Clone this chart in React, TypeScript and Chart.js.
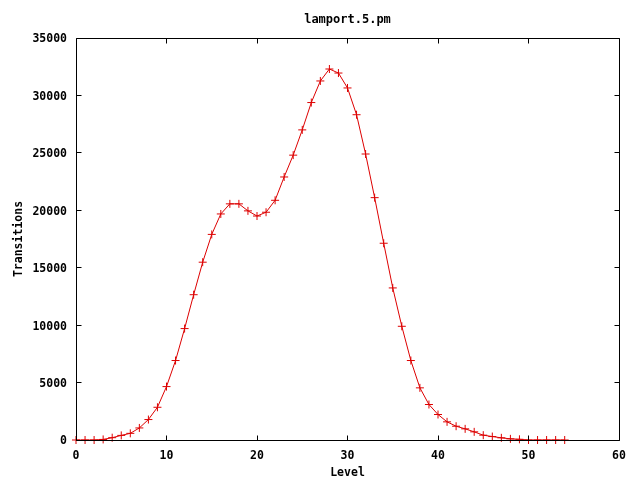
import React, { useEffect, useRef } from "react";
import { Chart, registerables } from "chart.js";

Chart.register(...registerables);

// ---- data ----
const levels = [
  0, 1, 2, 3, 4, 5, 6, 7, 8, 9,
  10, 11, 12, 13, 14, 15, 16, 17, 18, 19,
  20, 21, 22, 23, 24, 25, 26, 27, 28, 29,
  30, 31, 32, 33, 34, 35, 36, 37, 38, 39,
  40, 41, 42, 43, 44, 45, 46, 47, 48, 49,
  50, 51, 52, 53, 54,
];
const transitions = [
  0, 0, 0, 50, 200, 400, 580, 1050, 1780, 2850,
  4650, 6920, 9700, 12650, 15480, 17900, 19680, 20560, 20560, 19950,
  19500, 19830, 20870, 22900, 24800, 27000, 29380, 31260, 32300, 31950,
  30650, 28320, 24900, 21100, 17130, 13240, 9900, 6920, 4540, 3090,
  2220, 1580, 1200, 970, 710, 420, 300, 190, 100, 60,
  0, 0, 0, 0, 0,
];
const xTickValues = [0, 10, 20, 30, 40, 50, 60];
const yTickValues = [0, 5000, 10000, 15000, 20000, 25000, 30000, 35000];
const chartTitle = "lamport.5.pm";
const xAxisLabel = "Level";
const yAxisLabel = "Transitions";

const FONT_FAMILY = "'DejaVu Sans Mono', 'Liberation Mono', monospace";
const LINE_COLOR = "#dd0000";

const gnuplotBox = {
  id: "gnuplotBox",
  afterDraw(chart: any) {
    const { ctx, chartArea: a, scales } = chart;
    const L = Math.floor(a.left) + 0.5;
    const R = Math.floor(a.right) + 0.5;
    const T = Math.floor(a.top) + 0.5;
    const B = Math.floor(a.bottom) + 0.5;
    const len = 5;
    ctx.save();
    ctx.strokeStyle = "#000";
    ctx.lineWidth = 1;
    ctx.beginPath();
    ctx.rect(L, T, R - L, B - T);
    scales.x.ticks.forEach((t: any) => {
      const p = Math.floor(scales.x.getPixelForValue(t.value)) + 0.5;
      ctx.moveTo(p, B);
      ctx.lineTo(p, B - len);
      ctx.moveTo(p, T);
      ctx.lineTo(p, T + len);
    });
    scales.y.ticks.forEach((t: any) => {
      const p = Math.floor(scales.y.getPixelForValue(t.value)) + 0.5;
      ctx.moveTo(L, p);
      ctx.lineTo(L + len, p);
      ctx.moveTo(R, p);
      ctx.lineTo(R - len, p);
    });
    ctx.stroke();
    ctx.restore();
  },
};

export default function App() {
  const canvasRef = useRef<HTMLCanvasElement | null>(null);

  useEffect(() => {
    const canvas = canvasRef.current;
    if (!canvas) return;
    const font = { family: FONT_FAMILY, size: 11.5, weight: "bold" as const, lineHeight: 1.2 };
    const chart = new Chart(canvas, {
      type: "line",
      data: {
        datasets: [
          {
            data: levels.map((lv, i) => ({ x: lv, y: transitions[i] })),
            borderColor: LINE_COLOR,
            backgroundColor: LINE_COLOR,
            borderWidth: 1,
            tension: 0,
            pointStyle: "cross",
            pointRadius: 4,
            pointBorderWidth: 1,
            pointBorderColor: LINE_COLOR,
            clip: false as any,
            fill: false,
          },
        ],
      },
      options: {
        animation: false,
        responsive: false,
        maintainAspectRatio: false,
        devicePixelRatio: 1,
        layout: { padding: { left: 0, right: 21, top: 0, bottom: 0 } },
        plugins: {
          legend: { display: false },
          tooltip: { enabled: false },
          title: {
            display: true,
            fullSize: false,
            text: chartTitle,
            color: "#000",
            font: { family: FONT_FAMILY, size: 12, weight: "bold", lineHeight: 1.2 },
            padding: { top: 13, bottom: 10.6 },
          },
        },
        scales: {
          x: {
            type: "linear",
            min: 0,
            max: 60,
            afterBuildTicks: (s: any) => {
              s.ticks = xTickValues.map((v) => ({ value: v }));
            },
            afterFit: (s: any) => {
              s.height = 40;
            },
            ticks: { color: "#000", font, padding: 9, maxRotation: 0, autoSkip: false },
            grid: { display: false, drawTicks: false },
            border: { display: false },
            title: {
              display: true,
              text: xAxisLabel,
              color: "#000",
              font,
              padding: { top: 0, bottom: 0 },
            },
          },
          y: {
            type: "linear",
            min: 0,
            max: 35000,
            afterBuildTicks: (s: any) => {
              s.ticks = yTickValues.map((v) => ({ value: v }));
            },
            afterFit: (s: any) => {
              s.width = 76;
            },
            ticks: {
              color: "#000",
              font,
              padding: 9,
              labelOffset: 1.5,
              autoSkip: false,
              callback: (v: any) => String(v),
            },
            grid: { display: false, drawTicks: false },
            border: { display: false },
            title: {
              display: true,
              text: yAxisLabel,
              color: "#000",
              font,
              padding: { top: 12, bottom: 0 },
            },
          },
        },
      },
      plugins: [gnuplotBox],
    });
    return () => chart.destroy();
  }, []);

  return (
    <div style={{ position: "absolute", left: 0, top: 0, width: 640, height: 480, background: "#fff" }}>
      <canvas ref={canvasRef} width={640} height={480} style={{ width: 640, height: 480, display: "block" }} />
    </div>
  );
}
